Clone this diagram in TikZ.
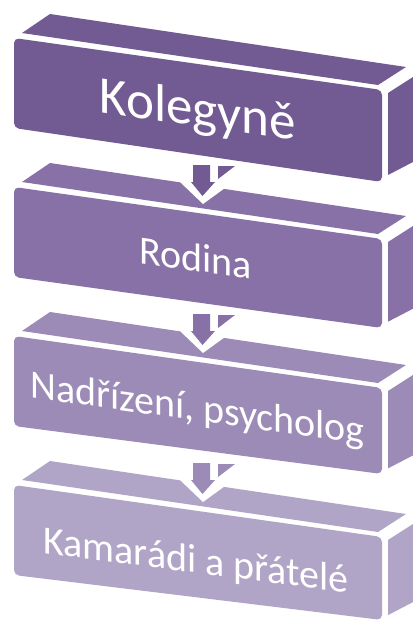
\documentclass[tikz,border=0pt]{standalone}
\usepackage{fontspec}
\setmainfont{Carlito}
\definecolor{cA}{HTML}{725A93}
\definecolor{cB}{HTML}{8771A6}
\definecolor{cC}{HTML}{9C8BB7}
\definecolor{cD}{HTML}{B1A5C7}
\tikzset{
  lbl/.style={text=white, inner sep=0pt, anchor=base, transform shape},
  bigfont/.style={font=\fontsize{53}{60}\selectfont},
  midfont/.style={font=\fontsize{40}{46}\selectfont}
}
% #1 = index 0..3, #2 = colour
\newcommand\myBox[2]{%
  \pgfmathsetmacro\oa{149*#1}%
  \pgfmathsetmacro\ob{146*#1}%
  \pgfmathsetmacro\oc{146.7*#1}%
  \fill[#2] (22,-33-\oa) -- (50,-14-\oa) -- (406,-67-\oa) -- (378,-85-\oa) -- cycle;
  \fill[#2] (388,-93-\oa) -- (413,-77-\oa) -- (413,-162-\oc) -- (388,-175-\oc) -- cycle;
  \fill[#2, rounded corners=5pt] (14,-38-\oa) -- (382,-90-\oa) -- (382,-182-\ob) -- (14,-128-\oa) -- cycle;
}
\newcommand\myArrow[2]{%
  \pgfmathsetmacro\oa{149*#1}%
  \fill[white] (176,-168-\oa) -- (180,-182-\oa) -- (203,-204-\oa) -- (225,-188-\oa) -- (230,-168-\oa) -- cycle;
  \fill[#2] (193,-165-\oa) -- (210,-165-\oa) -- (210,-182-\oa) -- (215,-182-\oa) -- (202.5,-196-\oa) -- (191,-182-\oa) -- (193,-182-\oa) -- cycle;
  \fill[#2] (218,-166-\oa) -- (235,-166-\oa) -- (218,-179-\oa) -- cycle;
}
\begin{document}
\begin{tikzpicture}[x=1pt,y=1pt]
\useasboundingbox (0,0) rectangle (413,-625);
\fill[white] (0,0) rectangle (413,-625);
\myBox{3}{cD}
\myArrow{2}{cC}
\myBox{2}{cC}
\myArrow{1}{cB}
\myBox{1}{cB}
\myArrow{0}{cA}
\myBox{0}{cA}
\begin{scope}[shift={(198,-126.5)}, yslant=-0.145]
  \node[lbl, bigfont] (t1) at (0,0) {Kolegyně};
\end{scope}
\begin{scope}[shift={(196,-271)}, yslant=-0.14]
  \node[lbl, midfont] (t2) at (0,0) {Rodina};
\end{scope}
\begin{scope}[shift={(197.5,-421)}, yslant=-0.14]
  \node[lbl, midfont] (t3) at (0,0) {Nadřízení, psycholog};
\end{scope}
\begin{scope}[shift={(196,-573)}, yslant=-0.13]
  \node[lbl, midfont] (t4) at (0,0) {Kamarádi a přátelé};
\end{scope}
\end{tikzpicture}
\end{document}
